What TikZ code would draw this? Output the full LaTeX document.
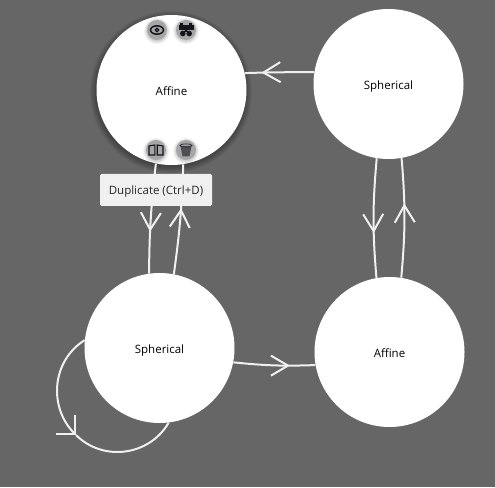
\documentclass[tikz,border=0pt]{standalone}
\usepackage{fontspec}
\setmainfont{Open Sans}
\usetikzlibrary{arrows.meta,decorations.markings}
\definecolor{canvasgray}{HTML}{666666}
\definecolor{wiregray}{HTML}{F0F0F0}
\definecolor{btngray}{HTML}{A6A6A6}
\definecolor{tipgray}{HTML}{F0F0F0}
\definecolor{iconink}{HTML}{14141C}
\tikzset{
  state/.style={circle,fill=white,minimum size=150pt,inner sep=0pt,text height=12pt,text depth=0.5pt,
      font=\fontsize{11.5}{14}\selectfont},
  btn/.style={circle,fill=btngray,minimum size=20pt,inner sep=0pt},
  wire/.style={draw=wiregray,line width=2pt},
  tipat/.style={postaction={decorate},decoration={markings,
      mark=at position #1 with {\arrow[wiregray,line width=2pt]{Straight Barb[length=17pt,width=20pt]}}}},
  hint/.style={fill=tipgray,rounded corners=1.5pt,minimum width=112pt,minimum height=32pt,inner sep=0pt,
      text height=9.5pt,text depth=1pt,text=black!85,font=\fontsize{11.5}{13}\selectfont}
}
\begin{document}
\begin{tikzpicture}[x=1pt,y=1pt]
      \fill[canvasgray] (0,0) rectangle (495,487);
      \useasboundingbox (0,0) rectangle (495,487);
      % shadow of the selected state
      \foreach \r in {75,76,...,81}
        \fill[black,opacity=0.05] (171,395) circle (\r);
      \node[state] (affineTop) at (171.5,397) {Affine};
      \node[state] (sphericalTop) at (388.5,403) {Spherical};
      \node[state] (sphericalLow) at (159.5,139) {Spherical};
      \node[state] (affineLow) at (389.5,135) {Affine};
      \coordinate (loopTip) at (76,52);
      \begin{scope}[wire]
        \draw[tipat=0.76] (sphericalTop.171.5) to[bend right=1] (affineTop.13.5);
        \draw[tipat=0.62] (affineTop.258) to[bend right=3] (sphericalLow.98);
        \draw[tipat=0.60] (sphericalLow.79) to[bend right=3] (affineTop.279);
        \draw[tipat=0.625] (sphericalTop.261.5) to[bend right=5] (affineLow.100.7);
        \draw[tipat=0.62] (affineLow.81.5) to[bend right=5] (sphericalTop.280.9);
        \draw[tipat=0.69] (sphericalLow.349.4) to[bend right=4] (affineLow.190.7);
        \draw[-{Straight Barb[length=13.5pt,width=27pt]}] (sphericalLow.174.6) to[out=212,in=135,looseness=1.05] (loopTip);
        \draw (loopTip) to[out=-45,in=240,looseness=1.05] (sphericalLow.277.6);
      \end{scope}
      \node[hint] (duplicateHint) at (156,297) {Duplicate (Ctrl+D)};
      % buttons on the selected state
      \foreach \x/\y in {157/457,186/457,156/337,186/337}
        \foreach \r in {10,11,12,13}
          \fill[black,opacity=0.05] (\x,\y-1) circle (\r);
      \node[btn] (eyeBtn) at (157,457) {};
      \node[btn] (reelBtn) at (186,457) {};
      \node[btn] (bookBtn) at (156,337) {};
      \node[btn] (binBtn) at (186,337) {};
      \begin{scope}[shift={(eyeBtn)}]
        \draw[iconink,line width=1.5pt] (0,0) ellipse (6.5 and 4.2);
        \draw[iconink,line width=1.3pt] (0,0) circle (1.8);
      \end{scope}
      \begin{scope}[shift={(reelBtn)}]
        \fill[iconink] (-7.5,0) rectangle (7.5,5);
        \fill[iconink] (-6,5) rectangle (-3,7);
        \fill[iconink] (3,5) rectangle (6,7);
        \fill[iconink] (0,0.5) -- (-3,-2) -- (3,-2) -- cycle;
        \fill[iconink] (-3.2,-3.5) circle (2.8);
        \fill[iconink] (3.2,-3.5) circle (2.8);
      \end{scope}
      \begin{scope}[shift={(bookBtn)}]
        \draw[iconink,line width=1.1pt] (-7,-5) -- (-7,4) -- (-1.2,5) -- (-1.2,-5) -- cycle;
        \draw[iconink,line width=1.1pt] (1.2,-5) -- (1.2,5) -- (7,4) -- (7,-5) -- cycle;
      \end{scope}
      \begin{scope}[shift={(binBtn)}]
        \fill[iconink!60!btngray] (-5.5,4) -- (5.5,4) -- (3.5,-6.5) -- (-3.5,-6.5) -- cycle;
        \draw[iconink!80!btngray,line width=0.8pt] (0,4.5) ellipse (6 and 1.6);
      \end{scope}
    \end{tikzpicture}
\end{document}
